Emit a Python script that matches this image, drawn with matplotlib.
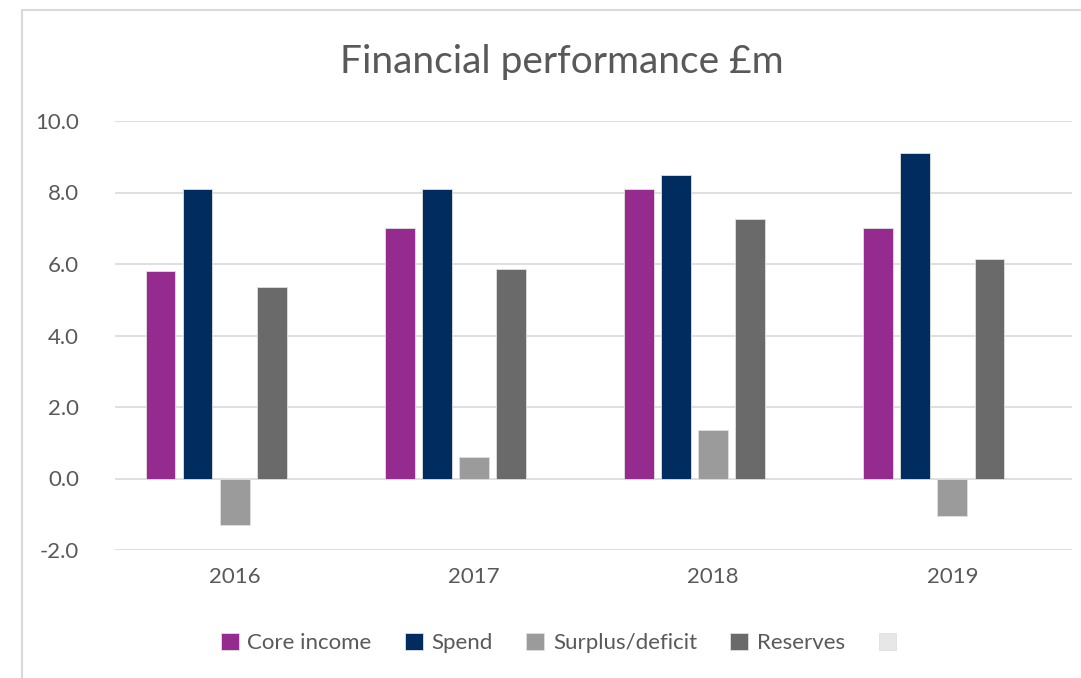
import matplotlib
matplotlib.use("Agg")
import matplotlib.pyplot as plt
import numpy as np
from matplotlib.patches import Rectangle

years = ["2016", "2017", "2018", "2019"]
series_names = ["Core income", "Spend", "Surplus/deficit", "Reserves", ""]
core_income = [5.8, 7.0, 8.1, 7.0]
spend = [8.1, 8.1, 8.5, 9.1]
surplus_deficit = [-1.3, 0.6, 1.35, -1.05]
reserves = [5.35, 5.85, 7.25, 6.15]
blank = [0, 0, 0, 0]
colors = ["#952B8E", "#002C5F", "#9B9B9B", "#6A6A6A", "#E7E7E7"]

plt.rcParams['font.family'] = ['Lato', 'DejaVu Sans']
txt = "#595959"

fig = plt.figure(figsize=(10.81, 6.78), dpi=100)
ax = fig.add_axes([115/1081, 1-550/678, (1072-115)/1081, (550-121)/678])

x = np.arange(len(years))
step = 0.155
width = 0.125
data = [core_income, spend, surplus_deficit, reserves, blank]
handles = []
for i, (vals, name, c) in enumerate(zip(data, series_names, colors)):
    off = (i - 2) * step
    b = ax.bar(x + off, vals, width, color=c, edgecolor="#E0E0E0", linewidth=0.6,
               label=name, zorder=3)
    handles.append(b)

ax.set_ylim(-2, 10)
ax.set_xlim(-0.5, 3.5)
ax.set_yticks(np.arange(-2, 10.1, 2))
ax.set_yticklabels([f"{v:.1f}" for v in np.arange(-2, 10.1, 2)])
ax.set_xticks(x)
ax.set_xticklabels(years)
ax.tick_params(axis='both', length=0, labelsize=16, colors=txt)
ax.tick_params(axis='y', pad=26)
ax.tick_params(axis='x', pad=12)
ax.grid(axis='y', color="#D9D9D9", linewidth=1.2, zorder=0)
for s in ax.spines.values():
    s.set_visible(False)

fig.text(562/1081, 1-62/678, "Financial performance £m", ha='center', va='center',
         fontsize=28, color=txt)

leg = fig.legend(handles=handles, labels=series_names, loc='center',
                 bbox_to_anchor=(563/1081, 1-643/678), ncol=5, frameon=False,
                 fontsize=16, handlelength=0.8, handleheight=0.8, handletextpad=0.4,
                 columnspacing=1.5)
for t in leg.get_texts():
    t.set_color(txt)

fig.patches.append(Rectangle((22/1081, -0.1), 1.2, 1.1 - 10/678, transform=fig.transFigure,
                             fill=False, edgecolor="#D9D9D9", linewidth=1.5))

fig.savefig("out.png", dpi=100)
